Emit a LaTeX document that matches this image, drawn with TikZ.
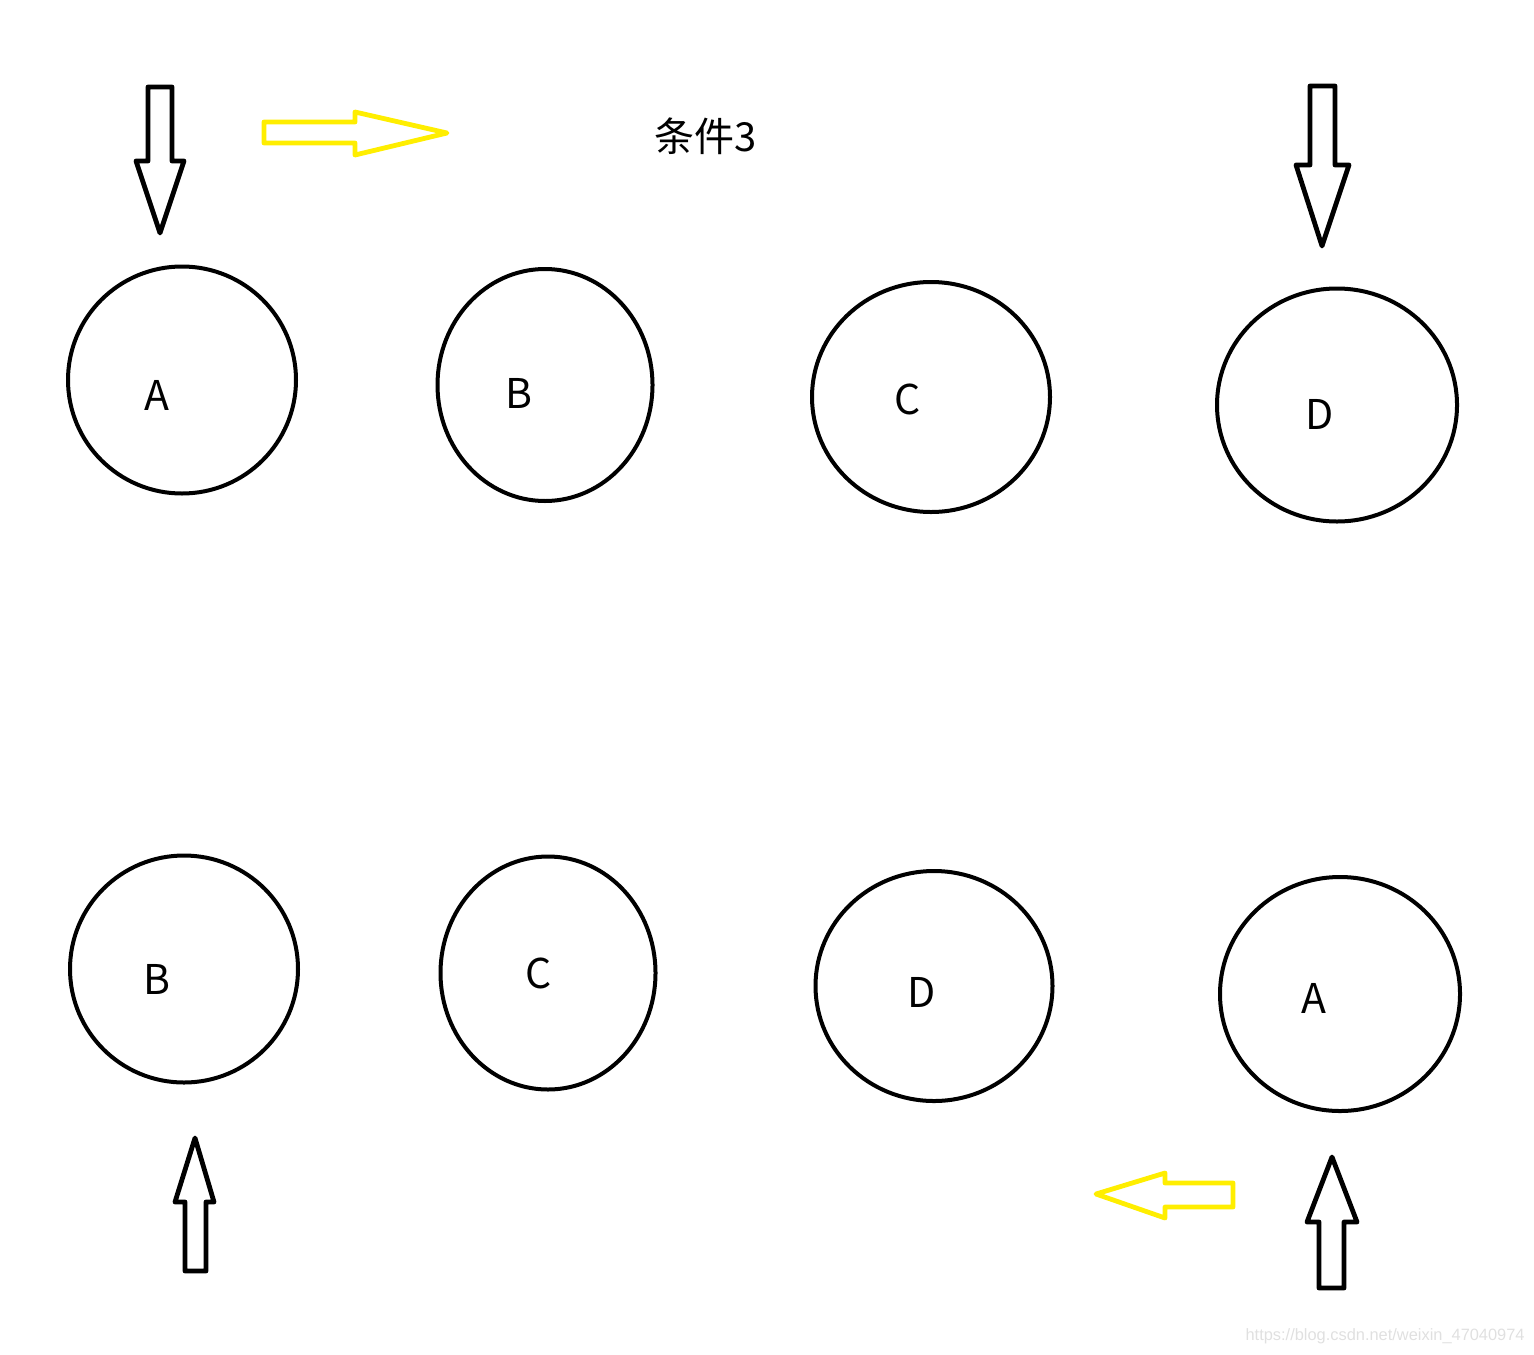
\documentclass[tikz,border=0pt]{standalone}
\usepackage{fontspec}
\setmainfont{Noto Sans CJK SC}
\newfontfamily\wmfont{Liberation Sans}
\usetikzlibrary{positioning}
\definecolor{paintyellow}{RGB}{255,238,0}

\begin{document}
\begin{tikzpicture}[x=0.5pt,y=-0.5pt,
    ring/.style={line width=2pt},
    blockarrow/.style={line width=2.4pt, line join=round},
    letter/.style={font=\fontsize{20.5}{21}\selectfont, inner sep=0pt}]
        \useasboundingbox (0,0) rectangle (1534,1354);

        % 上面一行
        \draw[ring] (182,380) ellipse (57pt and 56.75pt);
        \draw[ring] (545,385) ellipse (53.75pt and 58pt);
        \draw[ring] (931,397) ellipse (59.5pt and 57.5pt);
        \draw[ring] (1337,405) ellipse (60pt and 58.25pt);
        \node[letter] (topA) at (157,395) {A};
        \node[letter] (topB) at (519,393) {B};
        \node[letter] (topC) at (908,399) {C};
        \node[letter] (topD) at (1320,414) {D};

        % 下面一行
        \draw[ring] (184,969) ellipse (57pt and 56.75pt);
        \draw[ring] (548,973) ellipse (53.75pt and 58.25pt);
        \draw[ring] (934,986) ellipse (59.25pt and 57.5pt);
        \draw[ring] (1340,994) ellipse (60pt and 58.5pt);
        \node[letter] (botB) at (157,979) {B};
        \node[letter] (botC) at (539,973) {C};
        \node[letter] (botD) at (922,992) {D};
        \node[letter] (botA) at (1314,998) {A};

        % 黑色箭头
        \draw[blockarrow] (148,87) -- (172,87) -- (172,161) -- (184,161) -- (160,233)
            -- (136,161) -- (148,161) -- cycle;
        \draw[blockarrow] (1310,86) -- (1335,86) -- (1335,165) -- (1349,165) -- (1322,246)
            -- (1296,165) -- (1310,165) -- cycle;
        \draw[blockarrow] (185,1271) -- (206,1271) -- (206,1202) -- (214,1202) -- (195,1138)
            -- (175,1202) -- (185,1202) -- cycle;
        \draw[blockarrow] (1319,1288) -- (1344,1288) -- (1344,1222) -- (1357,1222) -- (1332,1157)
            -- (1307,1222) -- (1319,1222) -- cycle;

        % 黄色箭头
        \draw[blockarrow, paintyellow] (264,122) -- (355,122) -- (355,112) -- (447,133)
            -- (355,155) -- (355,143) -- (264,143) -- cycle;
        \draw[blockarrow, paintyellow] (1233,1183) -- (1165,1183) -- (1165,1173) -- (1096,1194)
            -- (1165,1218) -- (1165,1207) -- (1233,1207) -- cycle;

        % 标题
        \node[font=\fontsize{20}{20}\selectfont, inner sep=0pt] (title) at (706,136) {条件3};

        % 水印
        \node[font=\wmfont\fontsize{8.2}{9}\selectfont, text=black!12, anchor=east, inner sep=0pt]
            (mark) at (1525,1336) {https://blog.csdn.net/weixin\_47040974};
    \end{tikzpicture}
\end{document}
